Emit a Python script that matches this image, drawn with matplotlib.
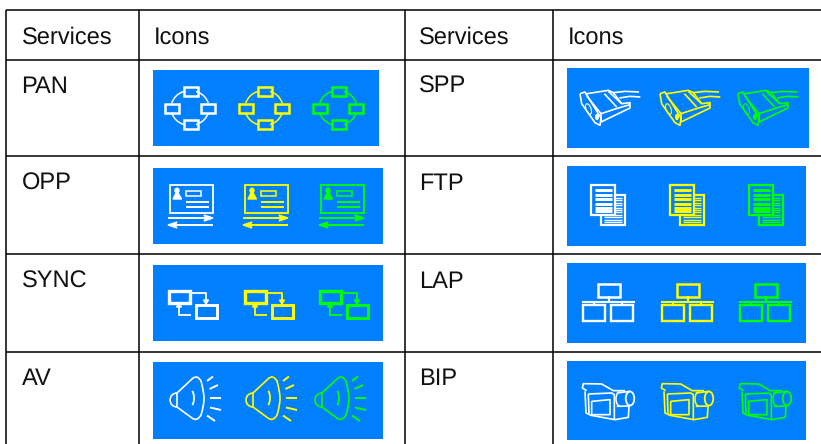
import numpy as np
import matplotlib
matplotlib.use("Agg")
import matplotlib.pyplot as plt
from matplotlib.patches import Rectangle, Ellipse, Arc, Polygon, PathPatch
from matplotlib.path import Path

header_left = "Services"
header_right = "Icons"
services_left = ["PAN", "OPP", "SYNC", "AV"]
services_right = ["SPP", "FTP", "LAP", "BIP"]
icon_colors = ["#ffffff", "#ffff00", "#00ff00"]
panel_color = "#007fff"

plt.rcParams['font.family'] = ['Liberation Sans', 'DejaVu Sans']
plt.rcParams['text.hinting'] = 'no_hinting'

fig = plt.figure(figsize=(8.21, 4.44), dpi=100)
ax = fig.add_axes([0, 0, 1, 1])
ax.set_xlim(0, 821)
ax.set_ylim(444, 0)
ax.axis('off')

LW = 1.1


def line(xs, ys, c, lw=1.0):
    ax.plot(xs, ys, color=c, lw=lw, solid_capstyle='butt', solid_joinstyle='round', zorder=3)


def box(x0, y0, x1, y1, c, lw=1.0):
    ax.add_patch(Rectangle((x0, y0), x1 - x0, y1 - y0, fill=False, ec=c, lw=lw, zorder=3))


def crop_line(pts, ox, oy, dx, c, lw=1.0):
    a = np.array(pts, dtype=float) / 3
    line(a[:, 0] + ox + dx, a[:, 1] + oy, c, lw)


def pan_icon(dx, c):
    cx, cy = 190 + dx, 108
    for a1, a2 in [(195, 250), (290, 345), (15, 70), (110, 165)]:
        ax.add_patch(Arc((cx, cy), 38, 35, theta1=a1, theta2=a2, ec=c, lw=1.1, zorder=3))
    for bx, by in [(191, 92), (172, 108), (208, 108), (191, 124)]:
        box(bx + dx - 7, by - 4.5, bx + dx + 7, by + 4.5, c, 1.8)


def opp_icon(dx, c):
    box(170 + dx, 185, 213 + dx, 213, c, 1.3)
    ax.add_patch(Ellipse((177 + dx, 190.5), 4, 4.5, color=c, zorder=3))
    ax.add_patch(Polygon([(177 + dx, 191), (181.5 + dx, 199), (173 + dx, 199)], color=c, zorder=3))
    box(186 + dx, 191, 201 + dx, 196, c, 1.1)
    line([186 + dx, 209 + dx], [202, 202], c, 1.4)
    line([186 + dx, 209 + dx], [207, 207], c, 1.4)
    line([168 + dx, 210 + dx], [218, 218], c, 1.4)
    ax.add_patch(Polygon([(213 + dx, 218), (204 + dx, 215), (206 + dx, 218), (204 + dx, 221)], color=c, zorder=3))
    line([171 + dx, 213 + dx], [225, 225], c, 1.4)
    ax.add_patch(Polygon([(168 + dx, 225), (177 + dx, 222), (175 + dx, 225), (177 + dx, 228)], color=c, zorder=3))


def sync_icon(dx, c):
    box(168.5 + dx, 290.5, 190 + dx, 302.5, c, 2.4)
    box(195.5 + dx, 304.5, 217 + dx, 318, c, 2.1)
    line([191 + dx, 206 + dx, 206 + dx], [293, 293, 302], c, 1.3)
    line([179 + dx, 179 + dx, 191 + dx], [303, 314.5, 314.5], c, 1.3)
    ax.add_patch(Polygon([(206 + dx, 304), (203.5 + dx, 300), (208.5 + dx, 300)], color=c, zorder=3))
    ax.add_patch(Polygon([(179 + dx, 303), (176.5 + dx, 307), (181.5 + dx, 307)], color=c, zorder=3))


def av_icon(dx, c):
    verts = [(177, 393), (192, 379), (197, 374), (201, 381), (204, 392), (204, 398),
             (204, 406), (201, 415), (197, 422), (192, 418), (177, 407)]
    codes = [Path.MOVETO, Path.LINETO, Path.CURVE3, Path.CURVE3, Path.CURVE3, Path.CURVE3,
             Path.CURVE3, Path.CURVE3, Path.CURVE3, Path.CURVE3, Path.LINETO]
    verts = [(x + dx, y) for x, y in verts]
    ax.add_patch(PathPatch(Path(verts, codes), fill=False, ec=c, lw=1.2, zorder=3))
    ax.add_patch(Arc((177 + dx, 400), 14, 14, theta1=90, theta2=270, ec=c, lw=1.2, zorder=3))
    line([177 + dx, 177 + dx], [393, 407], c, 1.2)
    ax.add_patch(Arc((189 + dx, 398), 10, 19, theta1=-65, theta2=65, ec=c, lw=1.3, zorder=3))
    rays = [(207, 381, 213, 376.5), (209.5, 389, 218, 385), (210, 398, 221, 398),
            (210, 407.5, 221, 410), (207, 415.5, 215, 421)]
    for x0, y0, x1, y1 in rays:
        line([x0 + dx, x1 + dx], [y0, y1], c, 1.4)


def spp_icon(dx, c):
    paths = [
        [(15, 35), (30, 30), (78, 108), (75, 130), (60, 122), (20, 65), (15, 35)],
        [(30, 36), (100, 25), (115, 32), (140, 65), (165, 62), (165, 78), (78, 120)],
        [(35, 42), (78, 95), (78, 120)],
        [(78, 95), (130, 78), (165, 68)],
        [(88, 35), (125, 75)],
        [(100, 28), (140, 65)],
        [(115, 32), (150, 28), (192, 30)],
        [(133, 48), (165, 43), (196, 45)],
    ]
    for p in paths:
        crop_line(p, 575, 82, dx, c, 1.2)
    ax.add_patch(Ellipse((588.5 + dx, 109), 5, 11, angle=-20, fill=False, ec=c, lw=0.8, zorder=3))
    ax.add_patch(Ellipse((597 + dx, 117), 2.5, 5, color=c, zorder=3))


def ftp_icon(dx, c):
    box(600.5 + dx, 195, 624.5 + dx, 225, c, 1.6)
    for y in np.arange(198, 224, 2.4):
        line([604 + dx, 622 + dx], [y, y], c, 1.0)
    ax.add_patch(Rectangle((591 + dx, 185), 24, 30, fc=panel_color, ec=c, lw=1.6, zorder=3))
    for y in [190, 194.5, 199, 203.5, 207.5, 210.5]:
        line([594.5 + dx, 612 + dx], [y, y], c, 2.1)


def lap_icon(dx, c):
    box(597.5 + dx, 283.5, 620 + dx, 296.5, c, 1.8)
    line([608.5 + dx, 608.5 + dx], [296, 302], c, 1.6)
    line([582 + dx, 635 + dx], [302, 302], c, 1.5)
    line([594 + dx, 594 + dx], [302, 305], c, 1.5)
    line([622 + dx, 622 + dx], [302, 305], c, 1.5)
    box(583 + dx, 305, 604.5 + dx, 320.5, c, 1.7)
    box(611 + dx, 305, 632.5 + dx, 320.5, c, 1.7)


def bip_icon(dx, c):
    paths = [
        [(35, 38), (22, 30), (25, 17), (80, 18), (115, 38), (150, 38)],
        [(30, 40), (33, 105), (48, 112), (120, 125), (160, 118), (162, 85)],
        [(50, 70), (105, 65), (105, 110), (50, 110), (50, 70)],
        [(40, 48), (110, 45), (118, 50), (118, 125)],
        [(40, 48), (42, 108)],
        [(125, 45), (165, 40)],
        [(125, 85), (165, 84)],
    ]
    for p in paths:
        crop_line(p, 575, 378, dx, c, 1.2)
    ax.add_patch(Ellipse((630 + dx, 398.5), 8.5, 14, fill=False, ec=c, lw=1.3, zorder=3))
    ax.add_patch(Arc((620 + dx, 399), 8, 14, theta1=90, theta2=270, ec=c, lw=1.1, zorder=3))


for y in [10, 60, 156, 254, 352]:
    ax.plot([6, 821], [y, y], color='black', lw=LW, solid_capstyle='butt')
for x in [6, 139, 404.5, 553]:
    ax.plot([x, x], [10, 444], color='black', lw=LW, solid_capstyle='butt')

for x, label in [(21.5, header_left), (154, header_right), (419, header_left), (568, header_right)]:
    ax.text(x, 44, label, fontsize=17, va='baseline', ha='left', color='#111111')

baselines = [93, 190, 288, 385]
for y, a, b in zip(baselines, services_left, services_right):
    ax.text(21.5, y, a, fontsize=17, va='baseline', ha='left', color='#111111')
    ax.text(419, y, b, fontsize=17, va='baseline', ha='left', color='#111111')

panels = [
    (153, 70, 379, 146, pan_icon, [0, 74, 148]),
    (153, 168, 383, 244, opp_icon, [0, 75, 151]),
    (153, 265, 383, 341, sync_icon, [0, 76, 151]),
    (153, 362, 383, 439, av_icon, [0, 76, 145]),
    (567, 68, 809, 148, spp_icon, [0, 80, 158]),
    (567, 166, 806, 246, ftp_icon, [0, 79, 158]),
    (567, 263, 806, 343, lap_icon, [0, 79, 157]),
    (567, 361, 806, 440, bip_icon, [0, 79, 157]),
]
for x0, y0, x1, y1, draw, offsets in panels:
    ax.add_patch(Rectangle((x0, y0), x1 - x0, y1 - y0, fc=panel_color, ec='none', zorder=2))
    for dx, c in zip(offsets, icon_colors):
        draw(dx, c)

fig.savefig("out.png", dpi=100)
